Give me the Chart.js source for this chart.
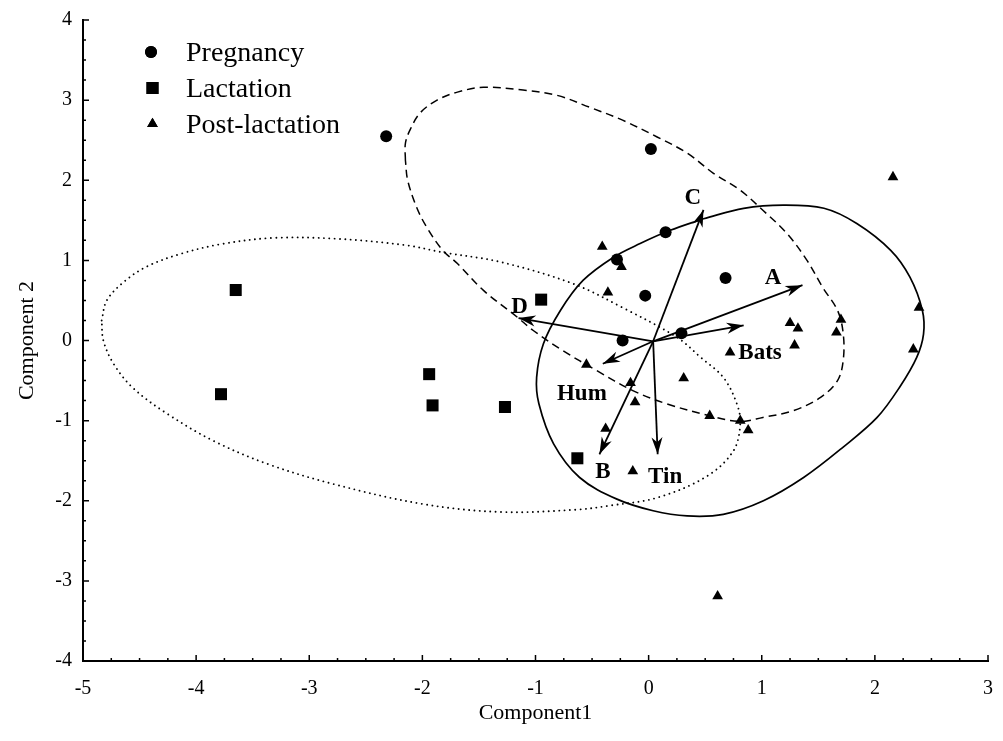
<!DOCTYPE html>
<html>
<head>
<meta charset="utf-8">
<script src="https://cdn.jsdelivr.net/npm/chart.js@4.4.0/dist/chart.umd.min.js"></script>
<style>
  html, body { margin: 0; padding: 0; background: #fff; }
  #wrap { width: 1003px; height: 741px; }
</style>
</head>
<body>
<div id="wrap"><canvas id="chart" width="1003" height="741"></canvas></div>
<script>
// Axis ticks
const xTickValues = [-5, -4, -3, -2, -1, 0, 1, 2, 3];
const yTickValues = [-4, -3, -2, -1, 0, 1, 2, 3, 4];

// Group scores
const pregnancyX = [-2.32, 0.02, 0.15, -0.28, 0.68, -0.03, 0.29, -0.23];
const pregnancyY = [2.55, 2.39, 1.35, 1.01, 0.78, 0.56, 0.09, 0.00];

const lactationX = [-3.65, -3.78, -1.94, -1.91, -1.27, -0.95, -0.63];
const lactationY = [0.63, -0.67, -0.42, -0.81, -0.83, 0.51, -1.47];

const postX = [2.16, -0.41, -0.24, -0.36, 1.25, 1.32, 1.29, 0.72, 1.70, 1.66, 2.39,
               2.34, -0.55, -0.16, -0.12, 0.31, 0.54, 0.81, 0.88, -0.38, -0.14, 0.61];
const postY = [2.04, 1.17, 0.92, 0.60, 0.22, 0.15, -0.06, -0.15, 0.26, 0.10, 0.41,
               -0.11, -0.30, -0.53, -0.77, -0.47, -0.94, -1.00, -1.12, -1.10, -1.63, -3.19];

// Ellipse outlines
const pregEllipseX = [-2.15, -2.15, -2.11, -2.02, -1.87, -1.69, -1.46, -1.11, -0.81, -0.52, -0.23,
                      0.075, 0.34, 0.57, 0.81, 1.01, 1.22, 1.40, 1.54, 1.67, 1.72, 1.72, 1.67, 1.52,
                      1.28, 1.01, 0.81, 0.54, 0.16, -0.14, -0.46, -0.76, -1.02, -1.16, -1.46, -1.69,
                      -1.82, -1.96, -2.05, -2.13];
const pregEllipseY = [2.25, 2.46, 2.625, 2.84, 3.00, 3.10, 3.16, 3.125, 3.06, 2.91, 2.75,
                      2.54, 2.34, 2.09, 1.875, 1.625, 1.34, 1.00, 0.66, 0.375, 0.09, -0.25, -0.50, -0.71,
                      -0.875, -0.96, -1.01, -0.94, -0.79, -0.625, -0.375, -0.125, 0.125, 0.29, 0.625, 0.96,
                      1.125, 1.41, 1.66, 2.00];

const lactEllipseX = [-4.835, -4.79, -4.64, -4.44, -4.14, -3.79, -3.32, -2.76, -2.15, -1.82, -1.31,
                      -0.67, -0.23, 0.25, 0.46, 0.66, 0.78, 0.81, 0.75, 0.52, 0.08, -0.34, -0.63,
                      -1.31, -2.00, -2.79, -3.37, -3.85, -4.26, -4.56, -4.73, -4.82];
const lactEllipseY = [0.25, 0.50, 0.73, 0.92, 1.08, 1.20, 1.28, 1.27, 1.19, 1.10, 0.98,
                      0.71, 0.41, 0.04, -0.21, -0.46, -0.79, -1.04, -1.375, -1.69, -1.96, -2.06, -2.11,
                      -2.14, -2.04, -1.79, -1.54, -1.25, -0.91, -0.59, -0.29, 0.00];

const postEllipseX = [0.485, 0.84, 1.19, 1.55, 1.84, 2.14, 2.31, 2.42, 2.43, 2.37, 2.22, 2.02,
                      1.72, 1.37, 1.015, 0.66, 0.34, 0.04, -0.28, -0.61, -0.84, -0.97, -0.99,
                      -0.93, -0.78, -0.58, -0.31, -0.075, 0.19];
const postEllipseY = [1.52, 1.65, 1.69, 1.65, 1.46, 1.125, 0.79, 0.375, 0.08, -0.21, -0.58, -0.96,
                      -1.33, -1.71, -2.00, -2.17, -2.19, -2.125, -1.98, -1.71, -1.29, -0.79, -0.46,
                      -0.04, 0.375, 0.75, 1.04, 1.21, 1.375];

// Variable vectors
const vectorNames = ['A', 'B', 'C', 'D', 'Bats', 'Hum', 'Tin'];
const vectorX = [1.36, -0.435, 0.485, -1.15, 0.84, -0.405, 0.08];
const vectorY = [0.69, -1.42, 1.63, 0.28, 0.19, -0.29, -1.42];
const vectorLabelX = [1.10, -0.405, 0.39, -1.14, 0.985, -0.59, 0.146];
const vectorLabelY = [0.79, -1.625, 1.79, 0.43, -0.15, -0.66, -1.69];
const originX = 0.04;
const originY = -0.01;

const SERIF = "'Liberation Serif', 'Times New Roman', serif";
Chart.defaults.font.family = SERIF;
Chart.defaults.color = '#000';

function toPoints(xs, ys) {
    return xs.map((x, i) => ({ x: x, y: ys[i] }));
}
function closed(xs, ys) {
    const pts = toPoints(xs, ys);
    pts.push({ x: xs[0], y: ys[0] });
    return pts;
}

const groups = [
    { label: 'Pregnancy', data: toPoints(pregnancyX, pregnancyY), pointStyle: 'circle', pointRadius: 6 },
    { label: 'Lactation', data: toPoints(lactationX, lactationY), pointStyle: 'rect', pointRadius: 8.5 },
    { label: 'Post-lactation', data: toPoints(postX, postY), pointStyle: 'triangle', pointRadius: 6.2 }
];

const datasets = groups.map(g => ({
    label: g.label,
    data: g.data,
    pointStyle: g.pointStyle,
    pointRadius: g.pointRadius,
    backgroundColor: '#000',
    borderColor: '#000',
    borderWidth: 0,
    showLine: false
}));

function outline(data, dash, width, cap) {
    return {
        data: data,
        showLine: true,
        pointRadius: 0,
        borderColor: '#000',
        borderWidth: width,
        borderDash: dash,
        borderCapStyle: cap,
        tension: 0.35,
        fill: false
    };
}
datasets.push(outline(closed(pregEllipseX, pregEllipseY), [8, 5], 1.5, 'butt'));
datasets.push(outline(closed(lactEllipseX, lactEllipseY), [0.01, 5.3], 1.9, 'round'));
datasets.push(outline(closed(postEllipseX, postEllipseY), [], 1.7, 'butt'));

vectorNames.forEach((name, i) => {
    datasets.push({
        data: [{ x: originX, y: originY }, { x: vectorX[i], y: vectorY[i] }],
        showLine: true,
        pointRadius: 0,
        borderColor: '#000',
        borderWidth: 1.8,
        tension: 0
    });
});

// Inward ticks, arrowheads, vector labels and the legend
const decorPlugin = {
    id: 'decor',
    afterDatasetsDraw(chart) {
        const { ctx, scales: { x, y } } = chart;
        ctx.save();
        ctx.fillStyle = '#000';
        vectorNames.forEach((name, i) => {
            const x0 = x.getPixelForValue(originX), y0 = y.getPixelForValue(originY);
            const x1 = x.getPixelForValue(vectorX[i]), y1 = y.getPixelForValue(vectorY[i]);
            const ang = Math.atan2(y1 - y0, x1 - x0);
            const c = Math.cos(ang), s = Math.sin(ang);
            const L = 17, W = 5.5, N = 12;
            ctx.beginPath();
            ctx.moveTo(x1, y1);
            ctx.lineTo(x1 - L * c - W * s, y1 - L * s + W * c);
            ctx.lineTo(x1 - N * c, y1 - N * s);
            ctx.lineTo(x1 - L * c + W * s, y1 - L * s - W * c);
            ctx.closePath();
            ctx.fill();

            ctx.font = 'bold 23px ' + SERIF;
            ctx.textAlign = 'center';
            ctx.textBaseline = 'middle';
            ctx.fillText(name, x.getPixelForValue(vectorLabelX[i]), y.getPixelForValue(vectorLabelY[i]) + 1);
        });
        ctx.restore();
    },
    afterDraw(chart) {
        const { ctx, chartArea: area, scales: { x, y } } = chart;
        ctx.save();
        ctx.strokeStyle = '#000';
        ctx.lineWidth = 1.5;
        ctx.beginPath();
        xTickValues.forEach((v, i) => {
            const px = x.getPixelForValue(v);
            ctx.moveTo(px, area.bottom);
            ctx.lineTo(px, area.bottom - 6);
            if (i < xTickValues.length - 1) {
                for (let k = 1; k < 4; k++) {
                    const mx = x.getPixelForValue(v + (xTickValues[i + 1] - v) * k / 4);
                    ctx.moveTo(mx, area.bottom);
                    ctx.lineTo(mx, area.bottom - 3);
                }
            }
        });
        yTickValues.forEach((v, i) => {
            const py = y.getPixelForValue(v);
            ctx.moveTo(area.left, py);
            ctx.lineTo(area.left + 6, py);
            if (i < yTickValues.length - 1) {
                for (let k = 1; k < 4; k++) {
                    const my = y.getPixelForValue(v + (yTickValues[i + 1] - v) * k / 4);
                    ctx.moveTo(area.left, my);
                    ctx.lineTo(area.left + 3, my);
                }
            }
        });
        ctx.stroke();

        // legend
        const lx = area.left + 68, ly = area.top + 32, gap = 36;
        ctx.fillStyle = '#000';
        ctx.font = '28px ' + SERIF;
        ctx.textAlign = 'left';
        ctx.textBaseline = 'alphabetic';
        groups.forEach((g, i) => {
            const cy = ly + i * gap;
            Chart.helpers.drawPoint(ctx, {
                pointStyle: g.pointStyle,
                radius: g.pointRadius,
                rotation: 0,
                borderWidth: 0
            }, lx + (i === 0 ? 0 : 1.5), cy);
            ctx.fill();
            ctx.fillText(g.label, lx + 35, cy + 9);
        });
        ctx.restore();
    }
};

new Chart(document.getElementById('chart'), {
    type: 'scatter',
    data: { datasets: datasets },
    options: {
        responsive: false,
        animation: false,
        devicePixelRatio: 1,
        layout: { padding: { top: 20, right: 15, left: 0, bottom: 0 } },
        plugins: {
            legend: { display: false },
            tooltip: { enabled: false }
        },
        scales: {
            x: {
                type: 'linear',
                min: -5,
                max: 3,
                afterFit: (scale) => {
                    scale.height = 80;
                    scale.paddingLeft = 0;
                    scale.paddingRight = 0;
                },
                afterBuildTicks: (scale) => { scale.ticks = xTickValues.map(v => ({ value: v })); },
                grid: { display: false, drawTicks: false },
                border: { display: true, color: '#000', width: 2 },
                ticks: { font: { size: 20 }, color: '#000', padding: 16 },
                title: {
                    display: true,
                    text: 'Component1',
                    font: { size: 22 },
                    color: '#000',
                    padding: { top: 0, bottom: 15 }
                }
            },
            y: {
                type: 'linear',
                min: -4,
                max: 4,
                afterFit: (scale) => {
                    scale.width = 83;
                    scale.paddingTop = 0;
                    scale.paddingBottom = 0;
                },
                afterBuildTicks: (scale) => { scale.ticks = yTickValues.map(v => ({ value: v })); },
                grid: { display: false, drawTicks: false },
                border: { display: true, color: '#000', width: 2 },
                ticks: { font: { size: 20 }, color: '#000', padding: 11 },
                title: {
                    display: true,
                    text: 'Component 2',
                    font: { size: 22 },
                    color: '#000',
                    padding: { top: 14, bottom: 0 }
                }
            }
        }
    },
    plugins: [decorPlugin]
});
</script>
</body>
</html>
